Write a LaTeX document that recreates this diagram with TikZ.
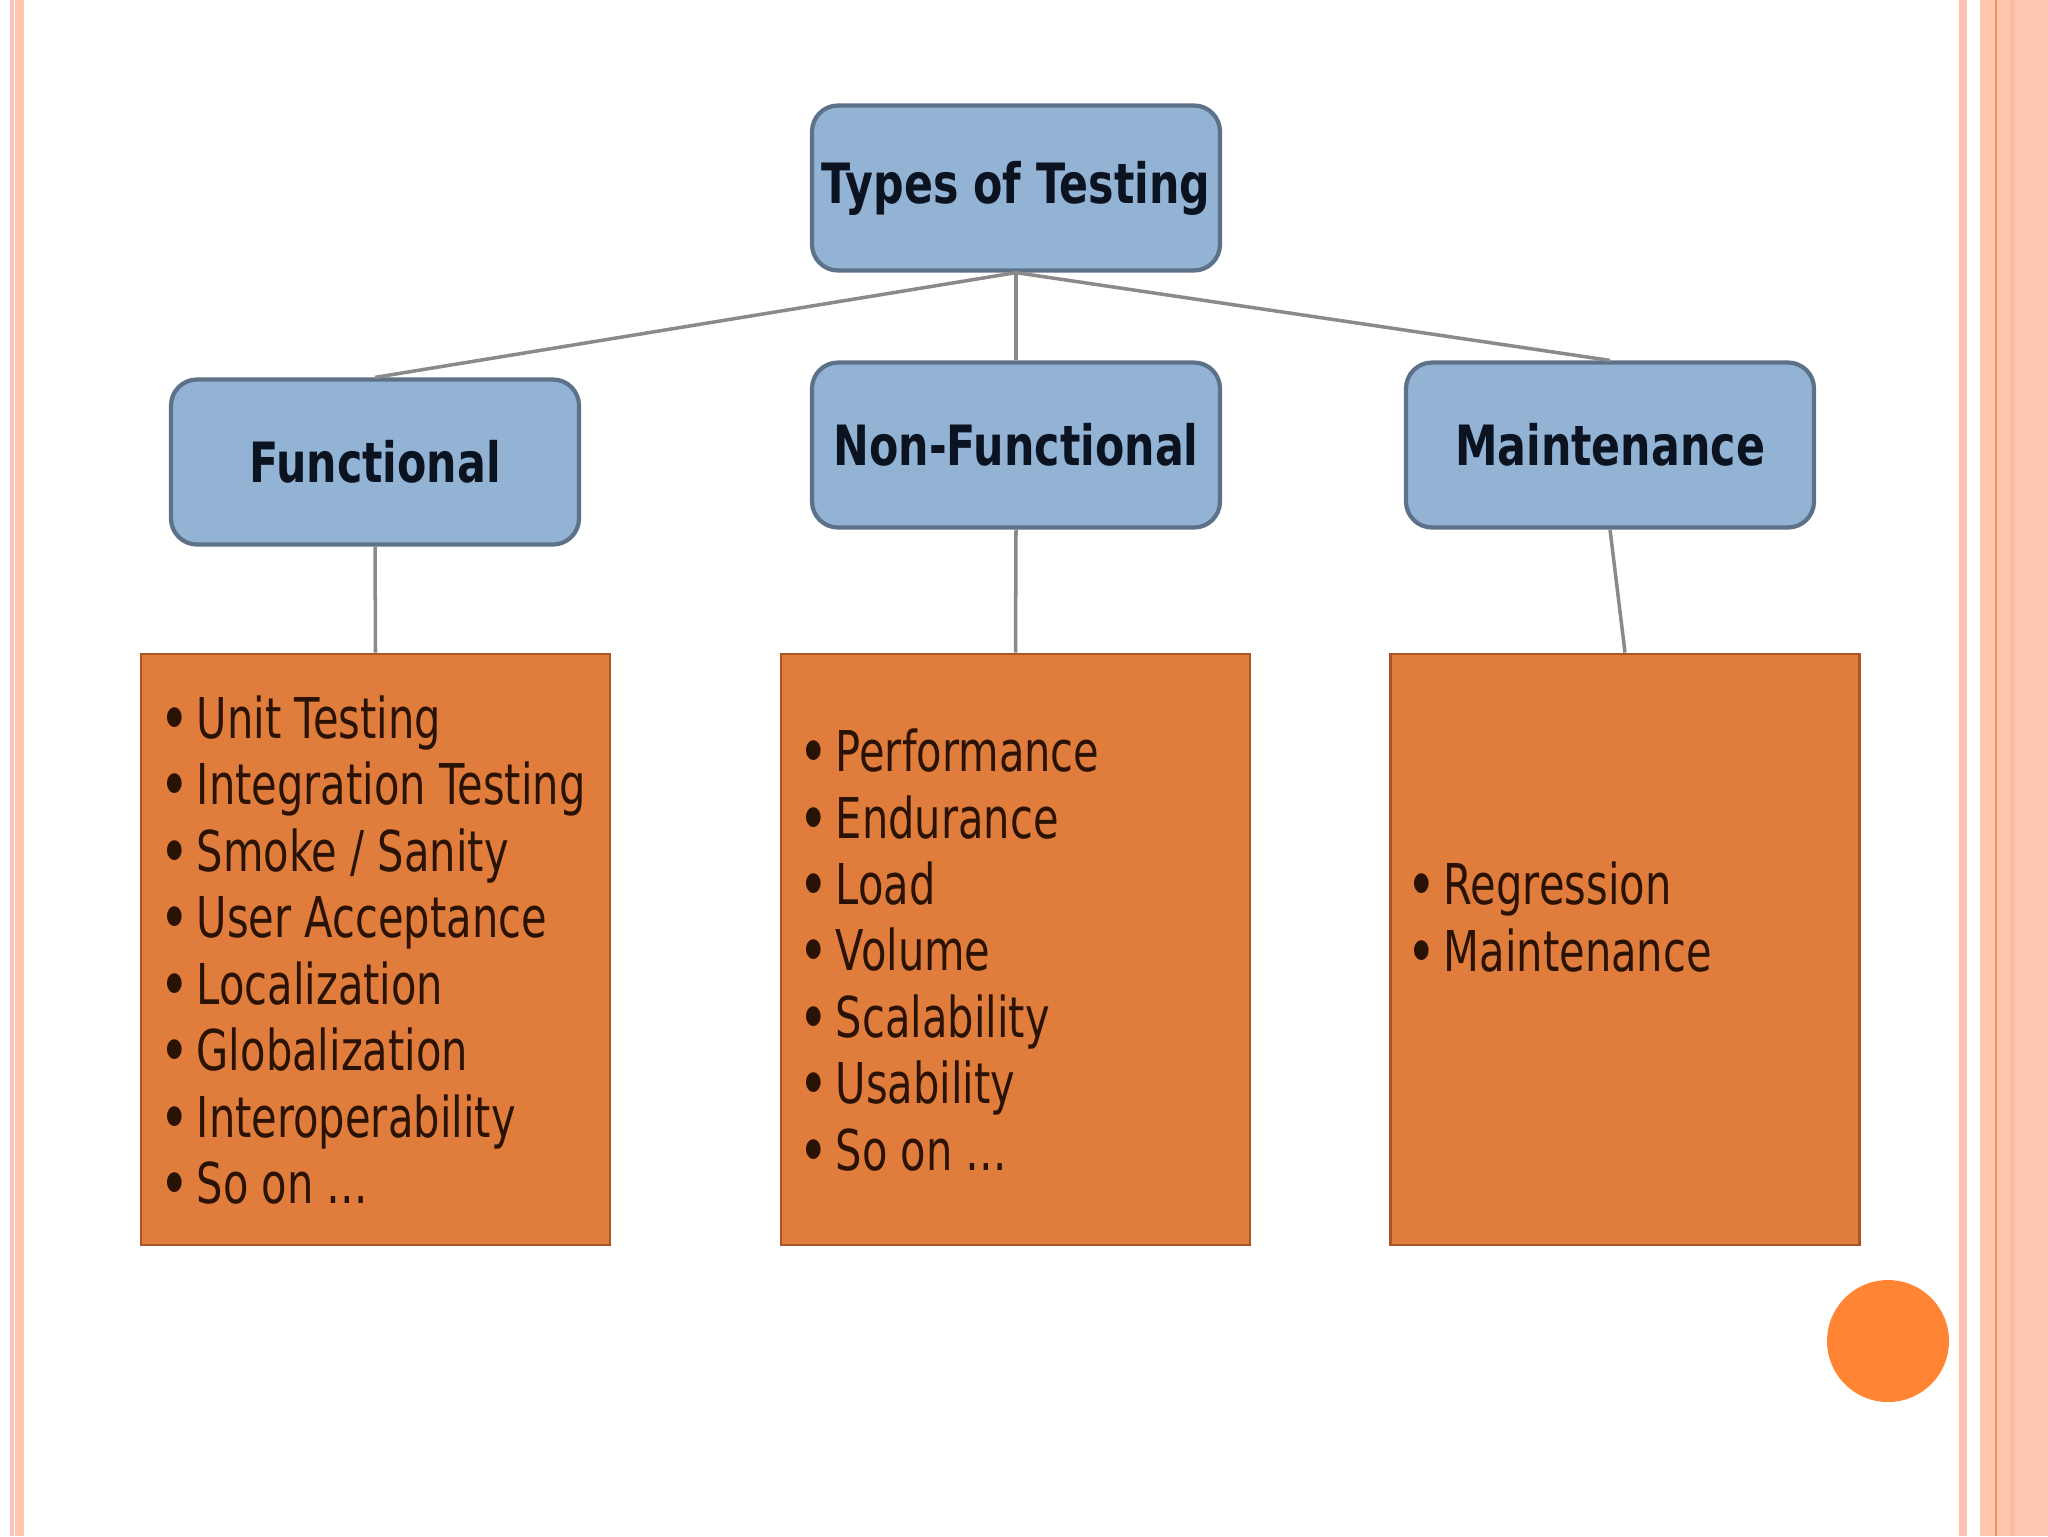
\documentclass[tikz,border=0pt]{standalone}
\usepackage{fontspec}
\setmainfont{DejaVu Sans}
\newfontfamily\slimfont[FakeStretch=0.74]{DejaVu Sans}
\newfontfamily\headfont[FakeStretch=0.77]{DejaVu Sans}
\usepackage{tikz}
\usetikzlibrary{positioning}
\definecolor{boxblue}{HTML}{93B3D5}
\definecolor{boxedge}{HTML}{5D7189}
\definecolor{boxorange}{HTML}{E07D3C}
\definecolor{orangeedge}{HTML}{A95526}
\definecolor{linkgray}{HTML}{8A8A8A}
\definecolor{stripepink}{HTML}{FBC3B6}
\definecolor{stripepeach}{HTML}{FFC7B0}
\definecolor{stripeline}{HTML}{F59050}
\definecolor{dotorange}{HTML}{FF8534}
\definecolor{listtext}{HTML}{2A1204}
\definecolor{headtext}{HTML}{0B1220}
\newcommand{\itm}{\textbf{\textbullet}\hspace{0.15em}}
\tikzset{head/.style={draw=boxedge, line width=1.2pt, fill=boxblue, rounded corners=2.6mm,
    minimum width=40.8mm, minimum height=16.5mm, inner xsep=0.5mm, text=headtext,
    font=\headfont\bfseries\fontsize{15.8}{18}\selectfont}}
\tikzset{listbox/.style={draw=orangeedge, line width=0.8pt, fill=boxorange,
    minimum width=46.9mm, minimum height=59.1mm}}
\tikzset{items/.style={align=left, inner sep=0pt, anchor=west, text=listtext,
    font=\slimfont\fontsize{16}{18.9}\selectfont}}
\tikzset{link/.style={draw=linkgray, line width=1pt}}

\begin{document}
\begin{tikzpicture}[x=0.1mm, y=-0.1mm]
\useasboundingbox (0,0) rectangle (2048,1536);
% page stripes
\fill[stripepink] (10,0) rectangle (14,1536);
\fill[stripepeach] (15,0) rectangle (24,1536);
\fill[stripepink] (1959,0) rectangle (1967,1536);
\fill[stripepeach] (1980,0) rectangle (2048,1536);
\fill[stripeline] (1995,0) rectangle (1997,1536);
\fill[stripepink!90!orange] (2010,0) rectangle (2015,1536);
\fill[dotorange] (1888,1341) circle (61);

% top level
\node[head] (types) at (1016,188) {Types of Testing};
\node[head] (func) at (375,462) {Functional};
\node[head] (nonfunc) at (1016,445) {Non-Functional};
\node[head] (maint) at (1610,445) {Maintenance};

% lists
\node[listbox] (funclist) at (375.5,949.5) {};
\node[listbox] (nonfunclist) at (1015.5,949.5) {};
\node[listbox] (maintlist) at (1625,949.5) {};

\node[items] (funcitems) at (161,950) {\itm Unit Testing\\\itm Integration Testing\\
  \itm Smoke / Sanity\\\itm User Acceptance\\\itm Localization\\
  \itm Globalization\\\itm Interoperability\\\itm So on \dots};
\node[items] (nonfuncitems) at (800,950) {\itm Performance\\\itm Endurance\\
  \itm Load\\\itm Volume\\\itm Scalability\\\itm Usability\\
  \itm So on \dots};
\node[items] (maintitems) at (1408,917) {\itm Regression\\\itm Maintenance};

% links
\draw[link] (types.south) -- (func.north);
\draw[link] (types.south) -- (nonfunc.north);
\draw[link] (types.south) -- (maint.north);
\draw[link] (func.south) -- (funclist.north);
\draw[link] (nonfunc.south) -- (nonfunclist.north);
\draw[link] (maint.south) -- (maintlist.north);
\end{tikzpicture}
\end{document}
